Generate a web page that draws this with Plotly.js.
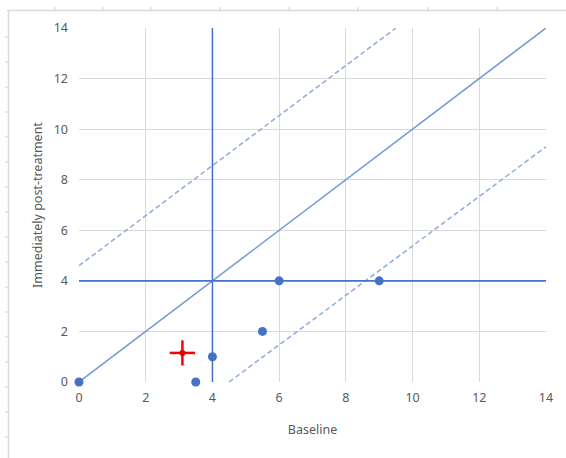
<!DOCTYPE html>
<html><head><meta charset="utf-8">
<script src="https://cdn.plot.ly/plotly-3.0.1.min.js"></script>
<style>
html,body{margin:0;padding:0;background:#fff;}
#wrap{position:relative;width:566px;height:458px;}
#chart{position:absolute;left:0;top:0;width:566px;height:458px;}
#frame{position:absolute;left:0;top:0;pointer-events:none;}
</style></head>
<body>
<div id="wrap"><div id="chart"></div>
<svg id="frame" width="566" height="458"></svg></div>
<script>
// Data
const baseline = [0, 3.5, 4, 5.5, 6, 9];
const post = [0, 0, 1, 2, 4, 4];
const meanBaseline = [3.1];
const meanPost = [1.15];
const errBaseline = [0.38];
const errPost = [0.5];
const cutoffX = 4;   // vertical reference line
const cutoffY = 4;   // horizontal reference line
const axisMax = 14;
const identityX = [0, 14], identityY = [0, 14];
const upperX = [0, 9.5], upperY = [4.6, 14];
const lowerX = [4.5, 14], lowerY = [0, 9.3];

const blue = '#4472c4';
const lineBlue = '#7397d8';
const dashBlue = '#8eaadf';

const traces = [
  {x:identityX, y:identityY, mode:'lines', line:{color:lineBlue, width:1.5}, hoverinfo:'skip'},
  {x:upperX, y:upperY, mode:'lines', line:{color:dashBlue, width:1.5, dash:'5px,3px'}, hoverinfo:'skip'},
  {x:lowerX, y:lowerY, mode:'lines', line:{color:dashBlue, width:1.5, dash:'5px,3px'}, hoverinfo:'skip'},
  {x:[cutoffX, cutoffX], y:[0, axisMax], mode:'lines', line:{color:blue, width:1.5}, hoverinfo:'skip'},
  {x:[0, axisMax], y:[cutoffY, cutoffY], mode:'lines', line:{color:blue, width:1.8}, hoverinfo:'skip'},
  {x:baseline, y:post, mode:'markers', marker:{color:blue, size:9}, cliponaxis:false},
  {x:meanBaseline, y:meanPost, mode:'markers', marker:{color:'#e00000', size:6},
   error_x:{type:'data', array:errBaseline, color:'#ff0000', thickness:2.5, width:0},
   error_y:{type:'data', array:errPost, color:'#ff0000', thickness:2.5, width:0}}
];

const tickFont = {family:'Noto Sans, sans-serif', size:12.5, color:'#595959'};
const titleFont = {family:'Noto Sans, sans-serif', size:12.5, color:'#595959'};
const layout = {
  width:566, height:458,
  margin:{l:79, r:20, t:28, b:76},
  paper_bgcolor:'#fff', plot_bgcolor:'#fff',
  showlegend:false,
  xaxis:{range:[0, axisMax], dtick:2, tick0:0, showgrid:true, gridcolor:'#d9d9d9', gridwidth:1,
    zeroline:false, showline:false, ticks:'', tickfont:tickFont, ticklabelstandoff:6,
    title:{text:'Baseline', font:titleFont, standoff:20}},
  yaxis:{range:[0, axisMax], dtick:2, tick0:0, showgrid:true, gridcolor:'#d9d9d9', gridwidth:1,
    zeroline:false, showline:false, ticks:'', tickfont:tickFont, ticklabelstandoff:10,
    title:{text:'Immediately post-treatment', font:titleFont, standoff:8}}
};
Plotly.newPlot('chart', traces, layout, {displayModeBar:false, staticPlot:true});

// decorative spreadsheet-like frame
const svg = document.getElementById('frame');
const ns = 'http://www.w3.org/2000/svg';
function ln(x1,y1,x2,y2,c,w){const l=document.createElementNS(ns,'line');
  l.setAttribute('x1',x1);l.setAttribute('y1',y1);l.setAttribute('x2',x2);l.setAttribute('y2',y2);
  l.setAttribute('stroke',c);l.setAttribute('stroke-width',w);svg.appendChild(l);}
ln(7,10.5,566,10.5,'#d9d9d9',1.5);
ln(8.5,10,8.5,458,'#d9d9d9',1.5);
[55,103,151,220,289,358,428,497].forEach(x=>ln(x,7,x,10,'#d0d0d0',1));
for(let y=37;y<458;y+=25){ln(5,y,8,y,'#d0d0d0',1);}
</script>
</body></html>
